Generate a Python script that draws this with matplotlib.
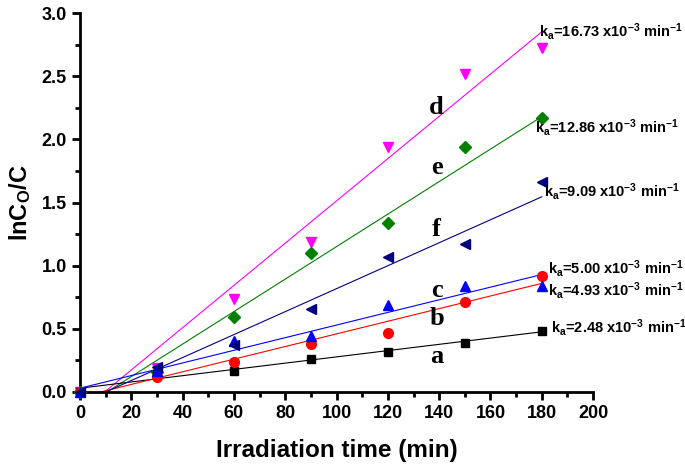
import matplotlib
matplotlib.use('Agg')
import numpy as np
import matplotlib.pyplot as plt
from matplotlib.ticker import MultipleLocator

plt.rcParams['font.family'] = 'Liberation Sans'
plt.rcParams['font.weight'] = 'bold'
plt.rcParams['mathtext.fontset'] = 'custom'
plt.rcParams['mathtext.rm'] = 'Liberation Sans:bold'
plt.rcParams['mathtext.it'] = 'Liberation Sans:bold'
plt.rcParams['mathtext.bf'] = 'Liberation Sans:bold'

# irradiation time (min)
time = [0, 30, 60, 90, 120, 150, 180]

# ln(C0/C) per sample
a_vals = [0.0, 0.14, 0.17, 0.26, 0.32, 0.39, 0.48]
b_vals = [0.0, 0.12, 0.24, 0.38, 0.47, 0.71, 0.92]
c_vals = [0.0, 0.17, 0.40, 0.44, 0.69, 0.84, 0.84]
f_vals = [0.0, 0.20, 0.37, 0.66, 1.07, 1.17, 1.66]
e_vals = [0.0, 0.16, 0.59, 1.10, 1.34, 1.94, 2.17]
d_vals = [0.0, 0.19, 0.74, 1.19, 1.94, 2.52, 2.72]

# linear fits: slope, intercept
fit_slope = {'a': 0.00248, 'b': 0.00500, 'c': 0.00500, 'f': 0.00909, 'e': 0.01286, 'd': 0.01673}
fit_icpt = {'a': 0.03, 'b': -0.04, 'c': 0.03, 'f': -0.091, 'e': -0.135, 'd': -0.16}

ka_labels = ['16.73', '12.86', '9.09', '5.00', '4.93', '2.48']
ka_pos = [(179, 2.85), (177.5, 2.09), (181, 1.59), (182.5, 0.98), (182.5, 0.80), (183.5, 0.51)]

letters = ['d', 'e', 'f', 'c', 'b', 'a']
letter_pos = [(139, 2.25), (139, 1.78), (139, 1.29), (139, 0.80), (139, 0.58), (139, 0.28)]

# drawn back to front
series = [
    ('d', d_vals, 'v', 'magenta', 7.5),
    ('e', e_vals, 'D', 'green', 6.5),
    ('a', a_vals, 's', 'black', 6),
    ('b', b_vals, 'o', 'red', 7),
    ('c', c_vals, '^', 'blue', 7.5),
    ('f', f_vals, '<', '#000080', 7.5),
]

fig = plt.figure(figsize=(6.85, 4.69), dpi=100)
ax = fig.add_axes([0.1168, 0.1642, 0.749, 0.808])

xfit = np.array([0, 180])
for name, vals, mk, col, ms in series:
    ax.plot(time, vals, linestyle='none', marker=mk, color=col, markersize=ms, clip_on=False, zorder=3)
    ax.plot(xfit, fit_slope[name] * xfit + fit_icpt[name], color=col, linewidth=0.8, zorder=2)

for lab, (x, y) in zip(ka_labels, ka_pos):
    ax.text(x, y, r'k$_a$=' + lab + r' x10$^{-3}$ min$^{-1}$', fontsize=10.5, fontweight='bold',
            ha='left', va='center')

for lt, (x, y) in zip(letters, letter_pos):
    ax.text(x, y, lt, fontsize=19, fontweight='bold', family='Liberation Serif', ha='center', va='center')

ax.set_xlim(0, 200)
ax.set_ylim(0, 3.0)
ax.xaxis.set_major_locator(MultipleLocator(20))
ax.xaxis.set_minor_locator(MultipleLocator(10))
ax.yaxis.set_major_locator(MultipleLocator(0.5))
ax.yaxis.set_minor_locator(MultipleLocator(0.25))
ax.yaxis.set_major_formatter(plt.FormatStrFormatter('%.1f'))

for side in ['top', 'right']:
    ax.spines[side].set_visible(False)
for side in ['left', 'bottom']:
    ax.spines[side].set_linewidth(2)

ax.tick_params(which='major', direction='out', length=6, width=2, labelsize=13)
ax.tick_params(which='minor', direction='out', length=3.5, width=2)

ax.set_xlabel('Irradiation time (min)', fontsize=17.5, fontweight='bold', labelpad=12)
ax.set_ylabel(r'lnC$_{\rm O}$/C', fontsize=17, fontweight='bold', labelpad=6)

fig.savefig('out.png', dpi=100)
